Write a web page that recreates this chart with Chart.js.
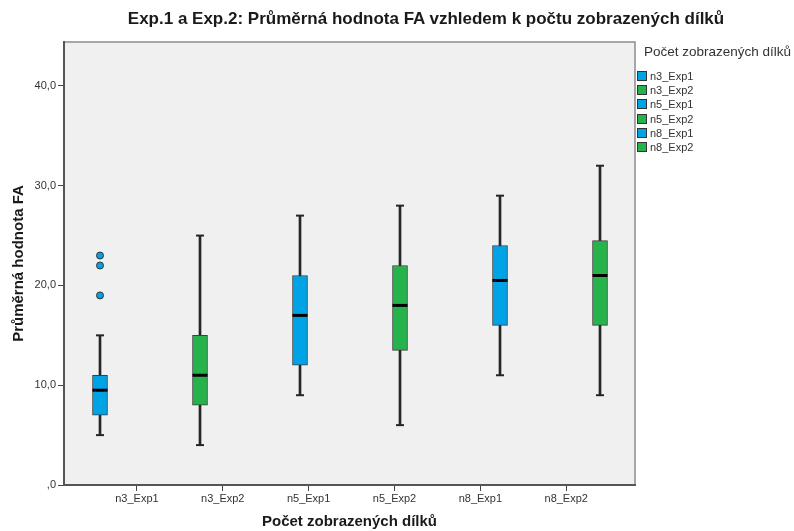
<!DOCTYPE html>
<html>
<head>
<meta charset="utf-8">
<script src="https://cdn.jsdelivr.net/npm/chart.js@4.4.1/dist/chart.umd.min.js"></script>
<style>
  html, body { margin: 0; padding: 0; background: #ffffff; }
  #wrap { position: relative; width: 794px; height: 531px; overflow: hidden;
          font-family: "Liberation Sans", Arial, sans-serif; }
  #chart { position: absolute; left: 0; top: 0; }
  #title { position: absolute; top: 9px; left: 426px; transform: translateX(-50%);
           white-space: nowrap; font-weight: bold; font-size: 17px; line-height: 20px; color: #1a1a1a; }
  #legendTitle { position: absolute; left: 644px; top: 44px; font-size: 13.5px; line-height: 16px;
                 color: #333; white-space: nowrap; }
  .lg-item { position: absolute; left: 637px; height: 14px; line-height: 14px; font-size: 11px;
             color: #333; white-space: nowrap; }
  .lg-swatch { position: absolute; left: 0; top: 2px; width: 10px; height: 10px;
               box-sizing: border-box; border: 1px solid #333; }
  .lg-text { position: absolute; left: 13px; top: 0; }
</style>
</head>
<body>
<div id="wrap">
  <canvas id="chart" width="794" height="531"></canvas>
  <div id="title">Exp.1 a Exp.2: Průměrná hodnota FA vzhledem k počtu zobrazených dílků</div>
  <div id="legendTitle">Počet zobrazených dílků</div>
</div>
<script>
// Groups on the horizontal axis
const categories = ['n3_Exp1', 'n3_Exp2', 'n5_Exp1', 'n5_Exp2', 'n8_Exp1', 'n8_Exp2'];

// Five-number summaries per group
const whiskerLow  = [5, 4, 9, 6, 11, 9];
const quartile1   = [7, 8, 12, 13.5, 16, 16];
const medians     = [9.5, 11, 17, 18, 20.5, 21];
const quartile3   = [11, 15, 21, 22, 24, 24.5];
const whiskerHigh = [15, 25, 27, 28, 29, 32];

// Outlying observations per group
const outliers = [[23, 22, 19], [], [], [], [], []];

// Value axis tick values
const yTicks = [0, 10, 20, 30, 40];

const BLUE = '#00a3e6';
const GREEN = '#27b34b';
const boxColors = categories.map(c => c.endsWith('Exp1') ? BLUE : GREEN);

const FONT = '"Liberation Sans", Arial, sans-serif';

// Legend entries
categories.forEach((name, i) => {
  const item = document.createElement('div');
  item.className = 'lg-item';
  item.style.top = (69 + i * 14.2) + 'px';
  const sw = document.createElement('div');
  sw.className = 'lg-swatch';
  sw.style.background = boxColors[i];
  const tx = document.createElement('div');
  tx.className = 'lg-text';
  tx.textContent = name;
  item.appendChild(sw);
  item.appendChild(tx);
  document.getElementById('wrap').appendChild(item);
});

const whiskerData = categories.map((_, i) => ({ x: i, y: [whiskerLow[i], whiskerHigh[i]] }));
const boxData = categories.map((_, i) => ({ x: i, y: [quartile1[i], quartile3[i]] }));
const medianData = categories.map((_, i) => ({ x: i, y: medians[i] }));
const capData = [];
categories.forEach((_, i) => {
  capData.push({ x: i, y: whiskerLow[i] });
  capData.push({ x: i, y: whiskerHigh[i] });
});
const outlierData = [];
const outlierColors = [];
outliers.forEach((vals, i) => vals.forEach(v => {
  outlierData.push({ x: i, y: v });
  outlierColors.push(boxColors[i]);
}));

// Grey plot area with a thin frame
const plotBackground = {
  id: 'plotBackground',
  beforeDraw(chart) {
    const { ctx, chartArea: a } = chart;
    ctx.save();
    ctx.fillStyle = '#f0f0f0';
    ctx.fillRect(a.left, a.top, a.right - a.left, a.bottom - a.top);
    ctx.strokeStyle = '#8c8c8c';
    ctx.lineWidth = 1.5;
    ctx.strokeRect(a.left, a.top, a.right - a.left, a.bottom - a.top);
    ctx.restore();
  }
};

new Chart(document.getElementById('chart'), {
  type: 'bar',
  data: {
    datasets: [
      {
        label: 'whiskers', type: 'bar', data: whiskerData, xAxisID: 'xb', yAxisID: 'y',
        backgroundColor: '#262626', barThickness: 2, grouped: false, borderWidth: 0, order: 4
      },
      {
        label: 'boxes', type: 'bar', data: boxData, xAxisID: 'xb', yAxisID: 'y',
        backgroundColor: boxColors, borderColor: '#3c3c3c', borderWidth: 1, borderSkipped: false,
        barThickness: 15, grouped: false, order: 3
      },
      {
        label: 'caps', type: 'scatter', data: capData, xAxisID: 'xb', yAxisID: 'y',
        pointStyle: 'line', pointRadius: 4, pointBorderWidth: 2, pointBorderColor: '#262626',
        borderColor: '#262626', order: 2
      },
      {
        label: 'medians', type: 'scatter', data: medianData, xAxisID: 'xb', yAxisID: 'y',
        pointStyle: 'line', pointRadius: 7.5, pointBorderWidth: 3, pointBorderColor: '#000',
        borderColor: '#000', order: 1
      },
      {
        label: 'outliers', type: 'scatter', data: outlierData, xAxisID: 'xb', yAxisID: 'y',
        pointStyle: 'circle', pointRadius: 3.5, pointBorderWidth: 1,
        pointBackgroundColor: outlierColors, pointBorderColor: '#333', order: 0
      }
    ]
  },
  options: {
    responsive: false,
    animation: false,
    devicePixelRatio: 1,
    layout: { padding: { left: 0, right: 159, top: 42, bottom: 0 } },
    plugins: { legend: { display: false }, tooltip: { enabled: false }, title: { display: false } },
    scales: {
      x: {
        type: 'linear', position: 'bottom', min: -0.849, max: 5.801, offset: false,
        afterBuildTicks: s => { s.ticks = categories.map((_, i) => ({ value: i })); },
        afterFit: s => { s.height = 46; },
        ticks: {
          callback: v => categories[v] ?? '', autoSkip: false, maxRotation: 0, padding: 1,
          color: '#333', font: { family: FONT, size: 11 }
        },
        grid: { drawOnChartArea: false, drawTicks: true, tickLength: 6, tickColor: '#444', offset: false },
        border: { display: true, color: '#555', width: 2 },
        title: {
          display: true, text: 'Počet zobrazených dílků', color: '#1a1a1a',
          font: { family: FONT, size: 15, weight: 'bold' }, padding: { top: 0, bottom: 0 }
        }
      },
      xb: {
        type: 'linear', display: false, min: -0.36, max: 5.35, offset: false,
        grid: { offset: false }
      },
      y: {
        type: 'linear', position: 'left', min: 0, max: 44.4,
        afterBuildTicks: s => { s.ticks = yTicks.map(v => ({ value: v })); },
        afterFit: s => { s.width = 64; },
        ticks: {
          callback: v => v === 0 ? ',0' : v.toFixed(1).replace('.', ','), padding: 2,
          color: '#333', font: { family: FONT, size: 11 }
        },
        grid: { drawOnChartArea: false, drawTicks: true, tickLength: 6, tickColor: '#444' },
        border: { display: true, color: '#555', width: 2 },
        title: {
          display: true, text: 'Průměrná hodnota FA', color: '#1a1a1a',
          font: { family: FONT, size: 15, weight: 'bold' }, padding: { top: 10, bottom: 0 }
        }
      }
    }
  },
  plugins: [plotBackground]
});
</script>
</body>
</html>
